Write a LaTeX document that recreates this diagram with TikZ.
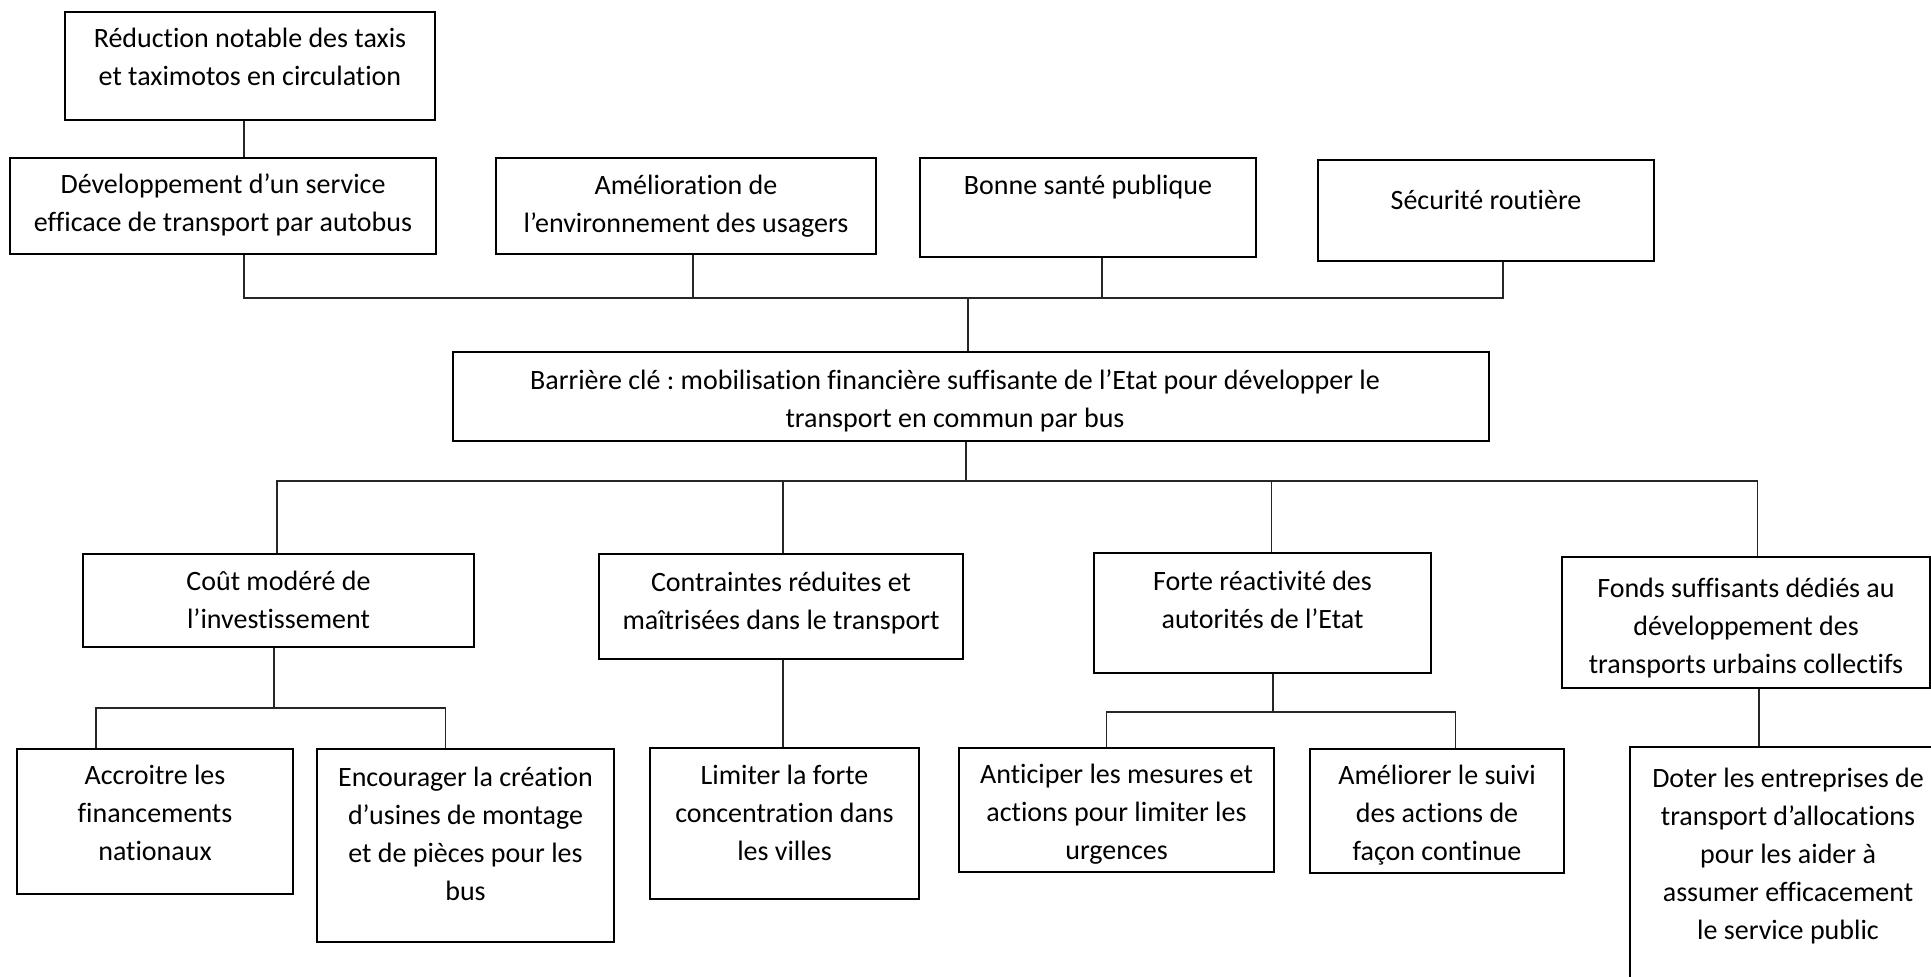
\documentclass[tikz,border=0pt]{standalone}
\usepackage{fontspec}
\setmainfont{Carlito}[Ligatures=NoCommon]
\usetikzlibrary{fit,calc}
\frenchspacing
\begin{document}
\begin{tikzpicture}[x=0.75pt,y=-0.75pt,
  box/.style={draw=black, line width=1.1pt, inner sep=0pt, rectangle},
  txt/.style={anchor=north, align=center, inner sep=0pt,
              font=\fontsize{21pt}{28.5pt}\selectfont},
  link/.style={draw=black!85, line width=1.05pt}]
\useasboundingbox (0,0) rectangle (1931,976);
\clip (0,0) rectangle (1931,976);

% ---------- effects (top rows) ----------
\node[box, fit={(65,12) (435,120)}]   (red) {};
\node[box, fit={(10,158) (436,254)}]  (dev) {};
\node[box, fit={(496,158) (876,254)}] (ame) {};
\node[box, fit={(920,158) (1256,257)}] (bon) {};
\node[box, fit={(1318,160) (1654,261)}] (sec) {};

\node[txt] (red-t) at ($(red.north)+(0,9.5)$) {\strut Réduction notable des taxis\\ et taximotos en circulation};
\node[txt] (dev-t) at ($(dev.north)+(0,9.5)$) {\strut Développement d’un service\\ efficace de transport par autobus};
\node[txt] (ame-t) at ($(ame.north)+(0,10.5)$) {\strut Amélioration de\\ l’environnement des usagers};
\node[txt] (bon-t) at ($(bon.north)+(0,10.5)$) {\strut Bonne santé publique};
\node[txt] (sec-t) at ($(sec.north)+(0,23.5)$) {\strut Sécurité routière};

% ---------- key barrier ----------
\node[box, fit={(453,352) (1489,441)}] (bar) {};
\node[txt] (bar-t) at ($(bar.north)+(-16,11.5)$) {\strut Barrière clé : mobilisation financière suffisante de l’Etat pour développer le\\ transport en commun par bus};

% ---------- causes ----------
\node[box, fit={(83,554) (474,647)}]    (cout) {};
\node[box, fit={(599,554) (963,659)}]   (cont) {};
\node[box, fit={(1094,553) (1431,673)}] (forte) {};
\node[box, fit={(1562,557) (1930,688)}] (fonds) {};

\node[txt] (cout-t)  at ($(cout.north)+(0,10.5)$)  {\strut Coût modéré de\\ l’investissement};
\node[txt] (cont-t)  at ($(cont.north)+(0,11.5)$)  {\strut Contraintes réduites et\\ maîtrisées dans le transport};
\node[txt] (forte-t) at ($(forte.north)+(0,11.5)$) {\strut Forte réactivité des\\ autorités de l’Etat};
\node[txt] (fonds-t) at ($(fonds.north)+(0,14.5)$) {\strut Fonds suffisants dédiés au\\ développement des\\ transports urbains collectifs};

% ---------- actions ----------
\node[box, fit={(17,749) (293,894)}]    (acc) {};
\node[box, fit={(317,749) (614,942)}]   (enc) {};
\node[box, fit={(650,748) (919,899)}]   (lim) {};
\node[box, fit={(959,748) (1274,872)}]  (ant) {};
\node[box, fit={(1310,749) (1564,873)}] (amel) {};
\node[box, fit={(1630,747) (1946,1000)}] (doter) {};

\node[txt] (acc-t)   at ($(acc.north)+(0,9.5)$)   {\strut Accroitre les\\ financements\\ nationaux};
\node[txt] (enc-t)   at ($(enc.north)+(0,11.5)$)  {\strut Encourager la création\\ d’usines de montage\\ et de pièces pour les\\ bus};
\node[txt] (lim-t)   at ($(lim.north)+(0,10.5)$)  {\strut Limiter la forte\\ concentration dans\\ les villes};
\node[txt] (ant-t)   at ($(ant.north)+(0,9.5)$)   {\strut Anticiper les mesures et\\ actions pour limiter les\\ urgences};
\node[txt] (amel-t)  at ($(amel.north)+(0,9.5)$)  {\strut Améliorer le suivi\\ des actions de\\ façon continue};
\node[txt] (doter-t) at ($(doter.north)+(0,14.5)$) {\strut Doter les entreprises de\\ transport d’allocations\\ pour les aider à\\ assumer efficacement\\ le service public};

% ---------- connector positions ----------
\coordinate (topbus) at (0,298);
\coordinate (midbus) at (0,481);
\coordinate (busA)   at (0,708);
\coordinate (busB)   at (0,712);
\coordinate (a0) at (244,0);
\coordinate (a1) at (693,0);
\coordinate (a2) at (1102,0);
\coordinate (a3) at (1503,0);
\coordinate (ac) at (968,0);
\coordinate (b0) at (966,0);
\coordinate (b1) at (277,0);
\coordinate (b2) at (783,0);
\coordinate (b3) at (1271.5,0);
\coordinate (b4) at (1757.5,0);
\coordinate (c0) at (274,0);
\coordinate (c1) at (96,0);
\coordinate (c2) at (445.6,0);
\coordinate (d0) at (1273,0);
\coordinate (d1) at (1106.6,0);
\coordinate (d2) at (1455.5,0);
\coordinate (e0) at (1759,0);

% ---------- connectors ----------
\draw[link] (red.south -| a0) -- (dev.north -| a0);
\draw[link] (dev.south -| a0) -- (topbus -| a0) -- (topbus -| a3) -- (sec.south -| a3);
\draw[link] (ame.south -| a1) -- (topbus -| a1);
\draw[link] (bon.south -| a2) -- (topbus -| a2);
\draw[link] (topbus -| ac) -- (bar.north -| ac);

\draw[link] (bar.south -| b0) -- (midbus -| b0);
\draw[link] (cout.north -| b1) -- (midbus -| b1) -- (midbus -| b4) -- (fonds.north -| b4);
\draw[link] (cont.north -| b2) -- (midbus -| b2);
\draw[link] (forte.north -| b3) -- (midbus -| b3);

\draw[link] (cout.south -| c0) -- (busA -| c0);
\draw[link] (acc.north -| c1) -- (busA -| c1) -- (busA -| c2) -- (enc.north -| c2);
\draw[link] (cont.south -| b2) -- (lim.north -| b2);
\draw[link] (forte.south -| d0) -- (busB -| d0);
\draw[link] (ant.north -| d1) -- (busB -| d1) -- (busB -| d2) -- (amel.north -| d2);
\draw[link] (fonds.south -| e0) -- (doter.north -| e0);
\end{tikzpicture}
\end{document}
